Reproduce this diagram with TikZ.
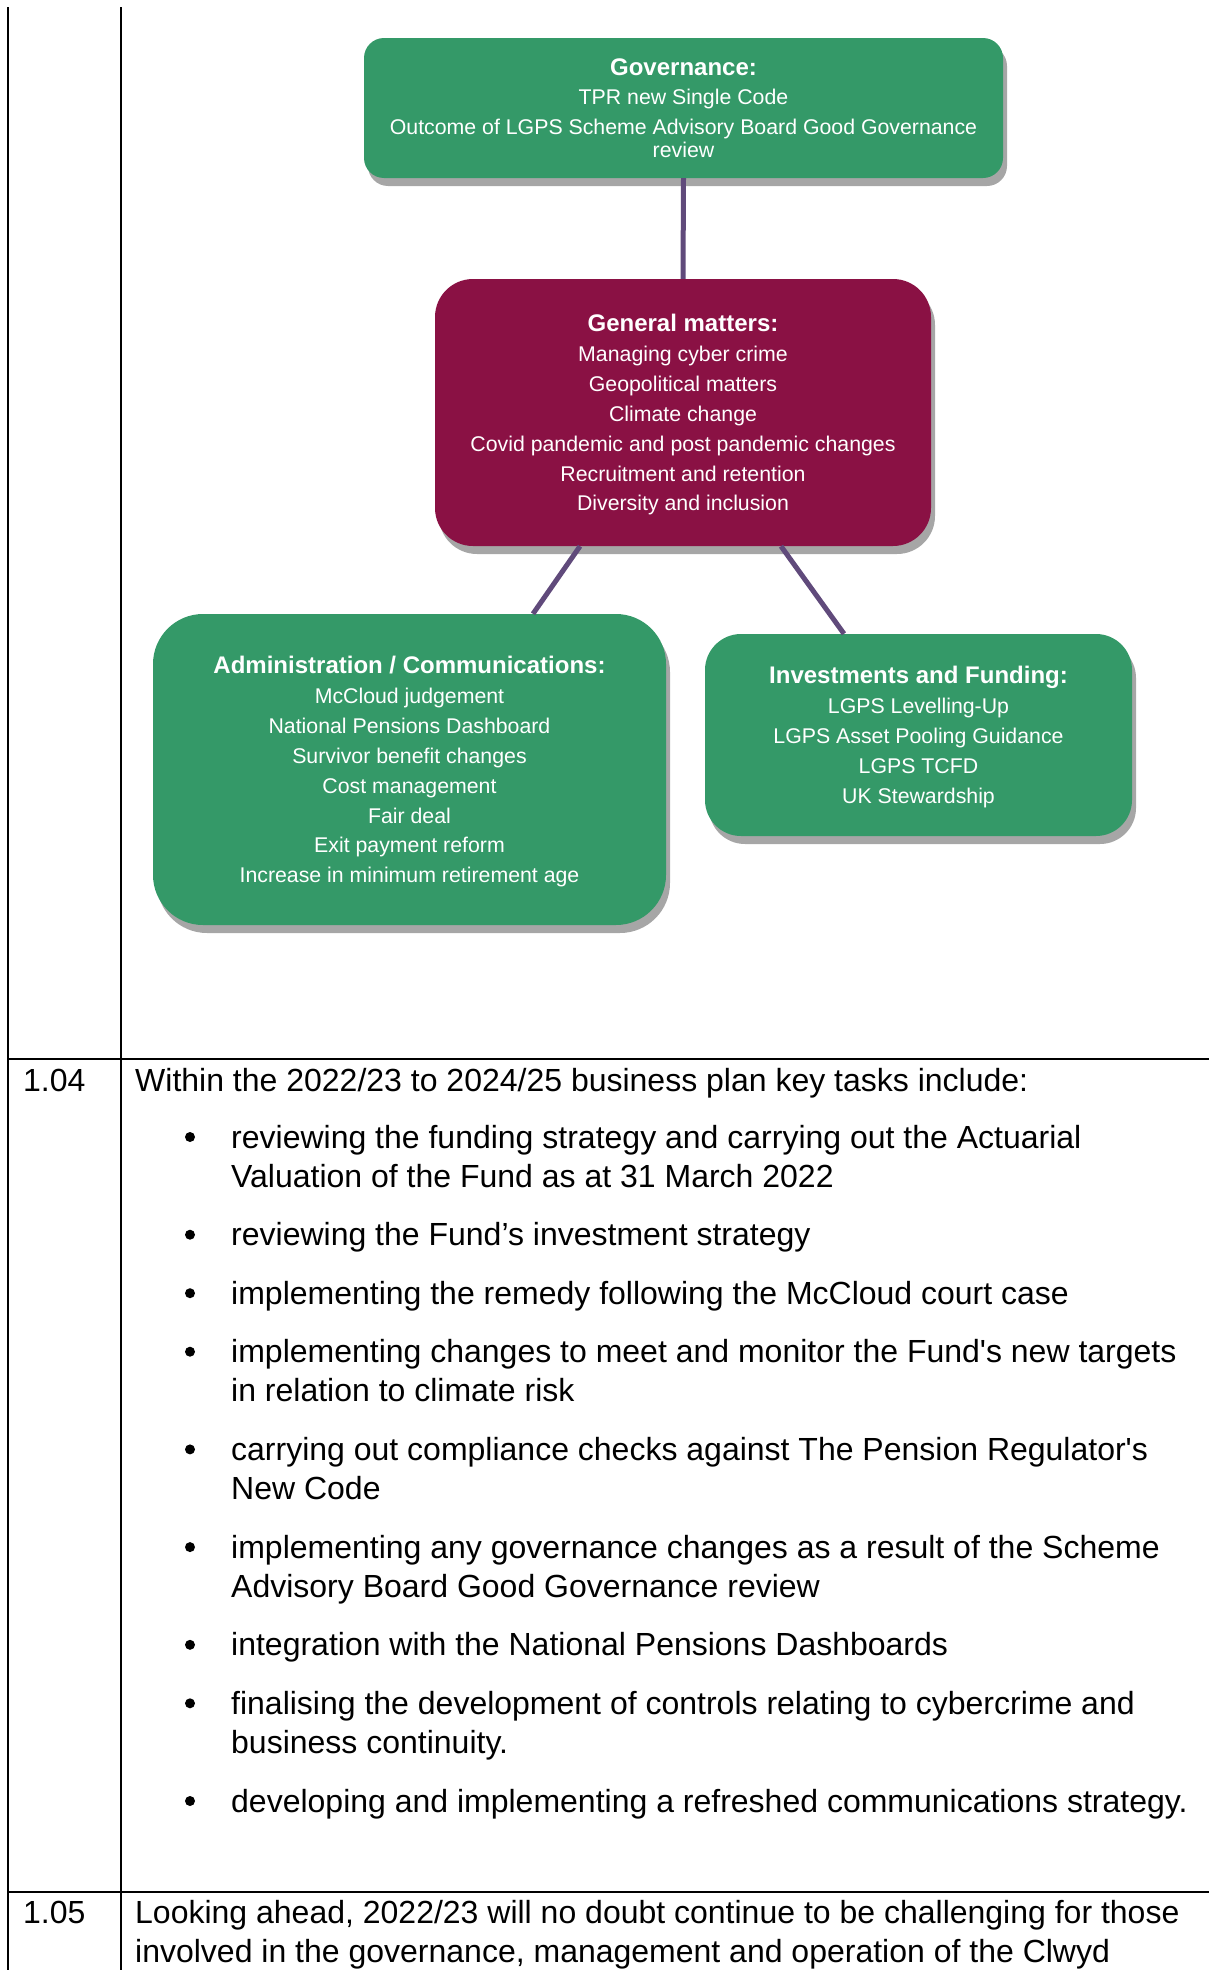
\documentclass[tikz,border=0pt]{standalone}
\usepackage{fontspec}
\setmainfont{Liberation Sans}
\usetikzlibrary{calc,shadows}

\definecolor{boxgreen}{RGB}{52,153,104}
\definecolor{boxplum}{RGB}{138,17,68}
\definecolor{linkpurple}{RGB}{96,74,123}
\definecolor{shadowgrey}{RGB}{166,166,166}

\tikzset{
  topic/.style={fill=boxgreen,text=white,align=center,inner sep=0pt,text depth=0pt,
    font=\fontsize{21.3}{29.9}\selectfont,
    drop shadow={shadow xshift=4pt,shadow yshift=-8pt,fill=shadowgrey,opacity=1}},
  link/.style={draw=linkpurple,line width=5pt},
  rule/.style={line width=1.6pt},
  para/.style={anchor=base west,align=left,inner sep=0pt,
    font=\fontsize{32}{39.2}\selectfont},
  dot/.style={circle,fill=black,inner sep=0pt,minimum size=10pt}
}
\newcommand{\hd}[1]{{\fontsize{24}{29.9}\selectfont\bfseries #1}}

\begin{document}
\begin{tikzpicture}[x=1pt,y=-1pt]
  \path[use as bounding box] (0,0) rectangle (1209,1970);

  % table rules
  \draw[rule] (8,7) -- (8,1970);
  \draw[rule] (120.7,7) -- (120.7,1970);
  \draw[rule] (8,1059) -- (1209,1059);
  \draw[rule] (8,1892) -- (1209,1892);

  % the four topic boxes
  \node[topic,minimum width=639pt,minimum height=140pt,rounded corners=20pt] (gov) at (683.5,108)
    {\hd{Governance:}\\TPR new Single Code\\Outcome of LGPS Scheme Advisory Board Good Governance\\[-7pt]review};
  \node[topic,fill=boxplum,minimum width=496pt,minimum height=267pt,rounded corners=38pt] (gm) at (683,412.5)
    {\hd{General matters:}\\Managing cyber crime\\Geopolitical matters\\Climate change\\Covid pandemic and post pandemic changes\\Recruitment and retention\\Diversity and inclusion};
  \node[topic,minimum width=513pt,minimum height=311pt,rounded corners=50pt] (adm) at (409.5,769.5)
    {\hd{Administration / Communications:}\\McCloud judgement\\National Pensions Dashboard\\Survivor benefit changes\\Cost management\\Fair deal\\Exit payment reform\\Increase in minimum retirement age};
  \node[topic,minimum width=427pt,minimum height=202pt,rounded corners=36pt] (inv) at (918.5,735)
    {\hd{Investments and Funding:}\\LGPS Levelling-Up\\LGPS Asset Pooling Guidance\\LGPS TCFD\\UK Stewardship};

  \draw[link] (gov.south) -- (gm.north);
  \draw[link] ($(gm.south)+(-103,0)$) -- ($(adm.north)+(123.5,0)$);
  \draw[link] ($(gm.south)+(98,0)$) -- ($(inv.north)+(-74.5,0)$);

  % paragraph 1.04 (y = first baseline, n = extra lines)
  \node[para] (num104) at (23,1091) {1.04};
  \node[para] (intro) at (135,1091) {Within the 2022/23 to 2024/25 business plan key tasks include:};
  \foreach \y/\n/\txt [count=\i] in {
      1148/1/{reviewing the funding strategy and carrying out the Actuarial\\Valuation of the Fund as at 31 March 2022},
      1245.7/0/{reviewing the Fund’s investment strategy},
      1304.2/0/{implementing the remedy following the McCloud court case},
      1362.7/1/{implementing changes to meet and monitor the Fund\textquotesingle s new targets\\in relation to climate risk},
      1460.4/1/{carrying out compliance checks against The Pension Regulator\textquotesingle s\\New Code},
      1558.1/1/{implementing any governance changes as a result of the Scheme\\Advisory Board Good Governance review},
      1655.8/0/{integration with the National Pensions Dashboards},
      1714.3/1/{finalising the development of controls relating to cybercrime and\\business continuity.},
      1812/0/{developing and implementing a refreshed communications strategy.}} {
    \node[dot] (dot\i) at (190,\y-11) {};
    \node[para] (task\i) at (231,\y+39.2*\n) {\txt};
  }

  % paragraph 1.05
  \node[para] (num105) at (23,1923) {1.05};
  \node[para] (ahead) at (135,1962.2) {Looking ahead, 2022/23 will no doubt continue to be challenging for those\\involved in the governance, management and operation of the Clwyd};
\end{tikzpicture}
\end{document}
